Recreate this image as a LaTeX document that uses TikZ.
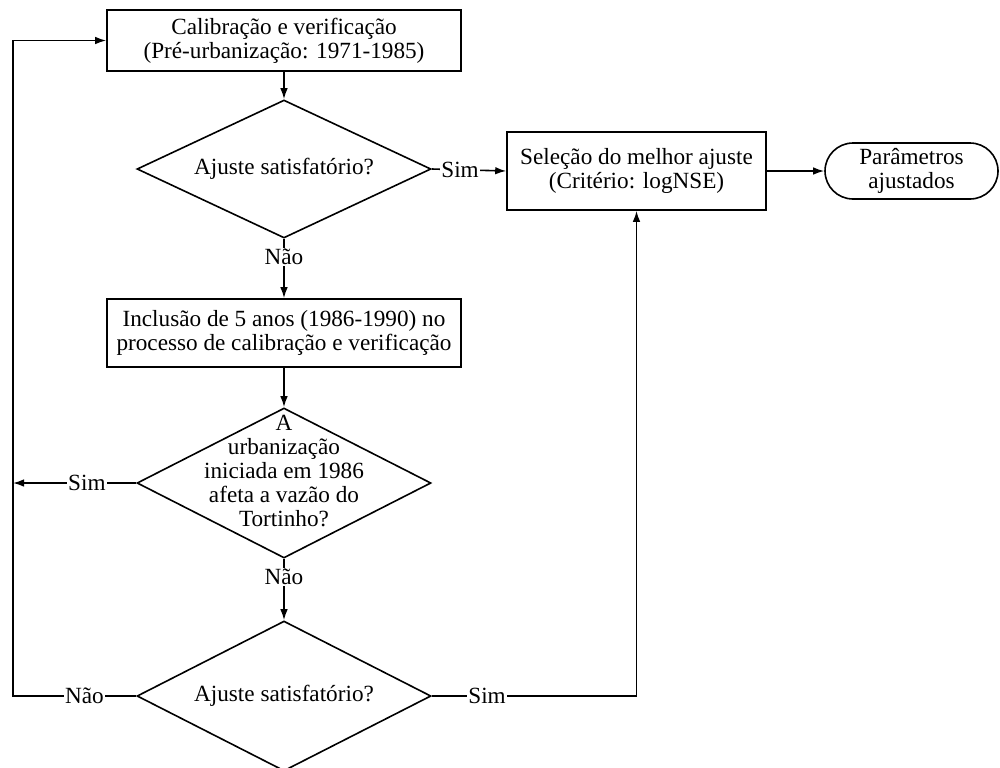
\documentclass[tikz,border=0pt]{standalone}
\usepackage{fontspec}
\setmainfont{Liberation Serif}
\usetikzlibrary{shapes.geometric,shapes.misc,arrows.meta}
\begin{document}
\begin{tikzpicture}[x=0.5pt,y=-0.5pt,
  txt/.style={font=\fontsize{11.6}{12}\selectfont,align=center,inner sep=0pt},
  box/.style={draw,rectangle,line width=0.8pt,inner sep=0pt,align=center,font=\fontsize{11.6}{12}\selectfont},
  dia/.style={draw,diamond,line width=0.8pt,inner sep=0pt,minimum width=147pt},
  term/.style={draw,rounded rectangle,line width=0.8pt,inner sep=0pt,align=center,font=\fontsize{11.6}{12}\selectfont},
  lab/.style={fill=white,inner sep=0.6pt,font=\fontsize{11.6}{12}\selectfont},
  arr/.style={line width=0.8pt,-{Latex[length=5.5pt,width=3.8pt]}}
]
\useasboundingbox (0,0) rectangle (1000,767);
\clip (0,0) rectangle (1000,767);
\fill[white] (0,0) rectangle (1000,767);

\node[box,minimum width=177pt,minimum height=30.5pt] (b1) at (284,40.5)
  {Calibração e verificação\\(Pré-urbanização: 1971-1985)};
\node[dia,minimum height=69pt] (d1) at (284,169) {};
\node[txt] (t1) at (284,169) {Ajuste satisfatório?};

\node[box,minimum width=177pt,minimum height=34pt] (b2) at (284,333)
  {Inclusão de 5 anos (1986-1990) no\\processo de calibração e verificação};

\node[dia,minimum height=75pt] (d2) at (284,483) {};
\node[txt] (t2) at (284,471)
  {A\\urbanização\\iniciada em 1986\\afeta a vazão do\\Tortinho?};

\node[dia,minimum height=75pt] (d3) at (284,696) {};
\node[txt] (t3) at (284,696) {Ajuste satisfatório?};

\node[box,minimum width=129.5pt,minimum height=39pt] (b3) at (636.5,171)
  {Seleção do melhor ajuste\\(Critério: logNSE)};
\node[term,minimum width=86.5pt,minimum height=28pt] (tm) at (911.5,171)
  {Parâmetros\\ajustados};

\coordinate (lx) at (13,0);

\draw[arr] (b1.south) -- (d1.north);
\draw[arr] (d1.east) -- node[lab,pos=0.38]{Sim} (b3.west);
\draw[arr] (d1.south) -- node[lab,pos=0.31]{Não} (b2.north);
\draw[arr] (b2.south) -- (d2.north);
\draw[arr] (d2.west) -- node[lab,pos=0.4]{Sim} (d2.west -| lx);
\draw[arr] (d2.south) -- node[lab,pos=0.3]{Não} (d3.north);
\draw[arr] (d3.west) -- node[lab,pos=0.42]{Não} (d3.west -| lx) |- (b1.west);
\draw[arr] (d3.east) -- node[lab,pos=0.27]{Sim} (d3.east -| b3.south) -- (b3.south);
\draw[arr] (b3.east) -- (tm.west);
\end{tikzpicture}
\end{document}
